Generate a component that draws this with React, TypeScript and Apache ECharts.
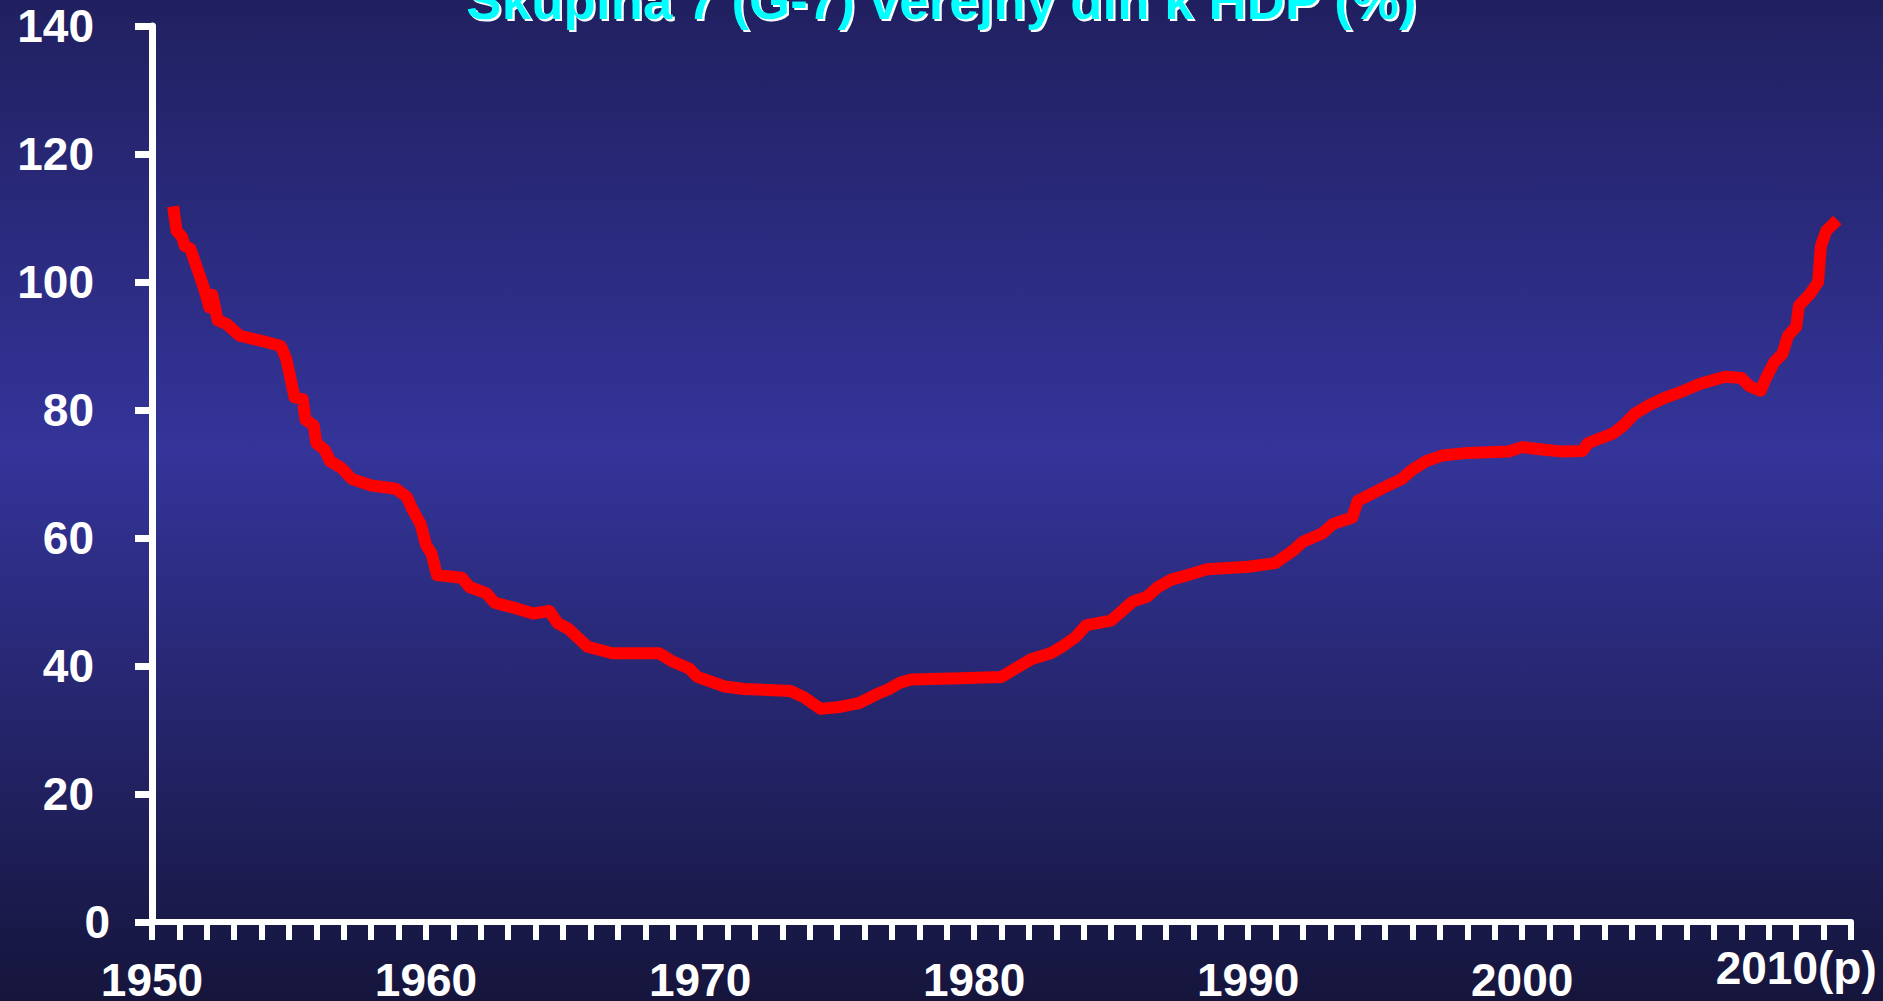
import React, { useEffect, useRef } from "react";
import * as echarts from "echarts";

const titleText = "Skupina 7 (G-7) verejný dlh k HDP (%)";

const years = [1950.77, 1950.9, 1951.1, 1951.2, 1951.4, 1951.9, 1952.1, 1952.2, 1952.4, 1952.7, 1953.2, 1954.1, 1954.7, 1954.9, 1955.0, 1955.2, 1955.5, 1955.6, 1955.9, 1956.0, 1956.3, 1956.5, 1956.9, 1957.3, 1958.0, 1958.9, 1959.3, 1959.5, 1959.8, 1960.0, 1960.2, 1960.4, 1961.3, 1961.6, 1962.2, 1962.5, 1963.3, 1963.9, 1964.5, 1964.8, 1965.2, 1965.9, 1966.8, 1968.5, 1969.0, 1969.6, 1969.9, 1970.9, 1971.6, 1973.3, 1973.8, 1974.4, 1975.1, 1975.8, 1976.4, 1976.9, 1977.3, 1977.7, 1979.5, 1981.0, 1981.5, 1982.1, 1982.8, 1983.2, 1983.7, 1984.1, 1985.0, 1985.4, 1985.8, 1986.3, 1986.7, 1987.2, 1987.8, 1988.5, 1990.0, 1991.0, 1991.6, 1992.0, 1992.7, 1993.1, 1993.8, 1994.0, 1994.5, 1995.1, 1995.6, 1996.0, 1996.5, 1997.1, 1998.0, 1999.5, 2000.0, 2000.8, 2001.5, 2002.2, 2002.4, 2002.8, 2003.3, 2003.7, 2004.1, 2004.6, 2005.2, 2005.9, 2006.5, 2007.4, 2008.0, 2008.3, 2008.7, 2008.9, 2009.2, 2009.5, 2009.7, 2010.0, 2010.1, 2010.5, 2010.8, 2010.9, 2011.1, 2011.5];

const debt = [111.8, 108, 107, 105.6, 105.2, 99, 96, 98, 94, 93.5, 91.6, 90.7, 90, 88, 86, 82, 81.7, 78.5, 77.6, 74.8, 73.8, 72, 71, 69.2, 68.2, 67.7, 66.4, 64.5, 62.2, 58.9, 57.6, 54.2, 53.8, 52.3, 51.4, 49.9, 49, 48.2, 48.6, 46.7, 45.8, 43, 42, 42, 40.7, 39.6, 38.3, 36.8, 36.4, 36.1, 35.1, 33.3, 33.6, 34.2, 35.5, 36.4, 37.4, 37.9, 38.1, 38.3, 39.6, 41.1, 42, 43, 44.5, 46.4, 47.1, 48.6, 50.1, 50.8, 52.3, 53.5, 54.2, 55.1, 55.5, 56.1, 57.9, 59.4, 60.7, 62.2, 63.2, 65.8, 66.9, 68.2, 69.2, 70.7, 72, 72.9, 73.3, 73.5, 74.2, 73.8, 73.5, 73.6, 74.8, 75.5, 76.3, 77.6, 79.4, 80.7, 81.9, 83, 84.1, 85.2, 85, 83.7, 83, 85, 87.5, 88.8, 91.6, 93, 96.3, 98.1, 100, 105.6, 108, 109.7];

const xLabels = ["1950", "1960", "1970", "1980", "1990", "2000", "2010(p)"];
const xLabelYears = [1950, 1960, 1970, 1980, 1990, 2000, 2010];
const yTicks = [0, 20, 40, 60, 80, 100, 120, 140];

const FONT = '"Liberation Sans", Arial, sans-serif';

export default function App() {
  const ref = useRef<HTMLDivElement>(null);
  useEffect(() => {
    if (!ref.current) return;
    const chart = echarts.init(ref.current, undefined, { renderer: "svg" });
    const labelStyle = { color: "#ffffff", fontSize: 46, fontWeight: "bold", fontFamily: FONT };
    chart.setOption({
      animation: false,
      backgroundColor: new echarts.graphic.LinearGradient(0, 0, 0, 1, [
        { offset: 0, color: "#202060" },
        { offset: 0.45, color: "#34349a" },
        { offset: 1, color: "#15153c" },
      ]),
      graphic: [
        {
          type: "text",
          x: 941.5,
          y: 0,
          style: {
            text: titleText,
            fill: "#00ffff",
            fontSize: 53,
            fontWeight: "bold",
            fontFamily: FONT,
            align: "center",
            verticalAlign: "middle",
            textShadowColor: "#ffffff",
            textShadowOffsetX: 2,
            textShadowOffsetY: 2,
            textShadowBlur: 0.5,
          },
        },
      ],
      grid: {
        left: 152,
        right: 32,
        top: 26,
        bottom: 79,
        containLabel: false,
        outerBoundsMode: "none",
      },
      xAxis: {
        type: "value",
        min: 1950,
        max: 2012,
        interval: 1,
        splitLine: { show: false },
        axisLine: { show: true, onZero: false, lineStyle: { color: "#ffffff", width: 6 } },
        axisTick: { show: true, inside: false, length: 18, lineStyle: { color: "#ffffff", width: 6 } },
        axisLabel: {
          show: true,
          margin: 23,
          showMinLabel: true,
          showMaxLabel: true,
          hideOverlap: false,
          formatter: (v: number) => {
            const i = xLabelYears.indexOf(Math.round(v));
            if (i < 0 || Math.abs(v - xLabelYears[i]) > 0.01) return "";
            if (xLabels[i].indexOf("(") >= 0) return "{p|" + xLabels[i] + "}";
            return "{n|" + xLabels[i] + "}";
          },
          rich: {
            n: { ...labelStyle, padding: [12, 0, 0, 0] },
            p: { ...labelStyle, padding: [0, 0, 0, 0] },
          },
        },
      },
      yAxis: {
        type: "value",
        min: yTicks[0],
        max: yTicks[yTicks.length - 1],
        interval: 20,
        splitLine: { show: false },
        axisLine: { show: true, lineStyle: { color: "#ffffff", width: 7 } },
        axisTick: { show: true, inside: false, length: 17, lineStyle: { color: "#ffffff", width: 7 } },
        axisLabel: {
          show: true,
          margin: 42,
          formatter: (v: number) => (v === 0 ? "{z|0}" : "{n|" + v + "}"),
          rich: {
            n: { ...labelStyle, padding: [0, 16, 0, 0] },
            z: { ...labelStyle },
          },
        },
      },
      series: [
        {
          type: "line",
          data: years.map((y, i) => [y, debt[i]]),
          showSymbol: false,
          symbol: "none",
          lineStyle: { color: "#ff0000", width: 12, join: "round", cap: "butt" },
          silent: true,
        },
      ],
    });
    return () => chart.dispose();
  }, []);
  return (
    <div
      ref={ref}
      style={{ position: "absolute", left: 0, top: 0, width: 1883, height: 1001 }}
    />
  );
}
